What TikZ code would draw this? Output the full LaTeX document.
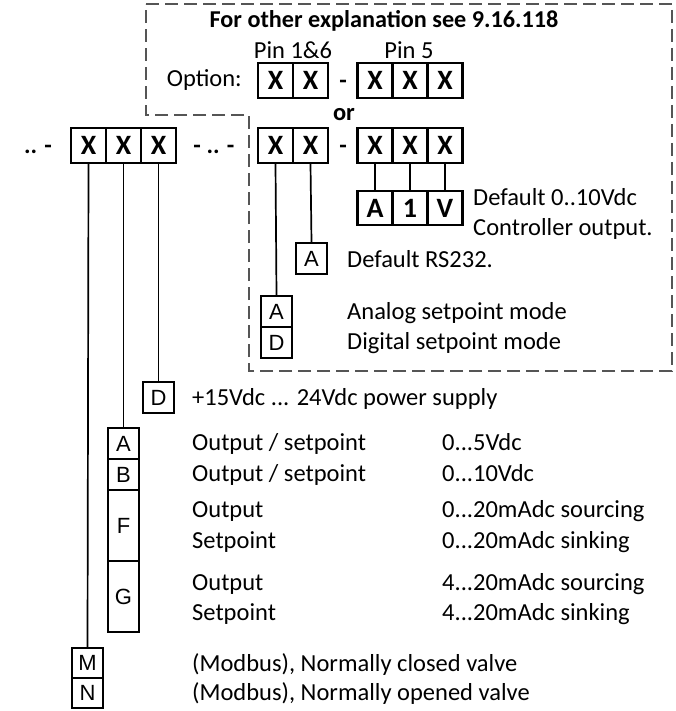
\documentclass[tikz,border=0pt]{standalone}
\usepackage{fontspec}
\setmainfont{Carlito}
\newfontfamily\arialf{Liberation Sans}
\begin{document}
\begin{tikzpicture}[x=1pt,y=-1pt,
  xcell/.style={draw, line width=2.2pt, minimum width=35pt, minimum height=35pt, inner sep=0pt, font=\fontsize{28}{30}\selectfont\bfseries},
  sbox/.style={draw, line width=1.9pt, minimum width=31pt, minimum height=31pt, inner sep=0pt, font=\arialf\fontsize{22}{24}\selectfont},
  lbl/.style={anchor=base west, inner sep=0pt, font=\fontsize{24.5}{26}\selectfont},
  blbl/.style={anchor=base, inner sep=0pt, font=\fontsize{24.5}{26}\selectfont\bfseries},
  conn/.style={line width=1.7pt},
  frame/.style={line width=1.8pt, draw={rgb,255:red,85;green,85;blue,85}, dash pattern=on 13pt off 6pt},
]
\useasboundingbox (0,0) rectangle (675,711);
% dashed option frame
\draw[frame] (146,4) -- (672,4) -- (672,371) -- (249,371) -- (249,115) -- (146,115) -- cycle;
% title and headings
\node[blbl, font=\fontsize{24.2}{26}\selectfont\bfseries] (title) at (384,28) {For other explanation see 9.16.118};
\node[anchor=base, inner sep=0pt, font=\fontsize{24.5}{26}\selectfont] (pin16) at (293,59) {Pin 1\&6};
\node[anchor=base, inner sep=0pt, font=\fontsize{24.5}{26}\selectfont] (pin5) at (409,59) {Pin 5};
\node[anchor=base east, inner sep=0pt, font=\fontsize{24.5}{26}\selectfont] (opt) at (242,87) {Option:};
% option row
\node[xcell] (o1) at (275.5,80.5) {X};
\node[xcell] (o2) at (310.5,80.5) {X};
\node[blbl] (od) at (343,89) {-};
\node[xcell] (o3) at (375,80.5) {X};
\node[xcell] (o4) at (410,80.5) {X};
\node[xcell] (o5) at (445,80.5) {X};
\node[blbl] (or) at (344,121) {or};
% main row
\node[blbl] (lead) at (38,154) {.. -};
\node[xcell] (l1) at (88.5,145.5) {X};
\node[xcell] (l2) at (123.5,145.5) {X};
\node[xcell] (l3) at (158.5,145.5) {X};
\node[blbl] (mid) at (214,154) {- .. -};
\node[xcell] (r1) at (275.5,145.5) {X};
\node[xcell] (r2) at (310.5,145.5) {X};
\node[blbl] (rd) at (343,154) {-};
\node[xcell] (r3) at (375,145.5) {X};
\node[xcell] (r4) at (410,145.5) {X};
\node[xcell] (r5) at (445,145.5) {X};
% A1V
\node[xcell, minimum height=34pt] (v1) at (375,208) {A};
\node[xcell, minimum height=34pt] (v2) at (410,208) {1};
\node[xcell, minimum height=34pt] (v3) at (445,208) {V};
\node[lbl] (vt1) at (473,206) {Default 0..10Vdc};
\node[lbl] (vt2) at (473,235) {Controller output.};
% RS232
\node[sbox] (rsA) at (311.5,258.5) {A};
\node[lbl] (rst) at (347,267) {Default RS232.};
% setpoint mode
\node[sbox] (anA) at (276.5,311.5) {A};
\node[sbox] (anD) at (276.5,342.5) {D};
\node[lbl] (ant) at (347,319) {Analog setpoint mode};
\node[lbl] (dgt) at (347,349) {Digital setpoint mode};
% power supply
\node[sbox] (psD) at (158.5,397.5) {D};
\node[lbl] (pst) at (192,405) {+15Vdc ... 24Vdc power supply};
% signal
\node[sbox] (sA) at (123.5,443.5) {A};
\node[sbox] (sB) at (123.5,474.5) {B};
\node[sbox, minimum height=71pt] (sF) at (123.5,525.5) {F};
\node[sbox, minimum height=71pt] (sG) at (123.5,596.5) {G};
\node[lbl] (a1) at (192,450) {Output / setpoint};
\node[lbl] (a2) at (442,450) {0...5Vdc};
\node[lbl] (b1) at (192,481) {Output / setpoint};
\node[lbl] (b2) at (442,481) {0...10Vdc};
\node[lbl] (f1) at (192,517) {Output};
\node[lbl] (f2) at (442,517) {0...20mAdc sourcing};
\node[lbl] (f3) at (192,548) {Setpoint};
\node[lbl] (f4) at (442,548) {0...20mAdc sinking};
\node[lbl] (g1) at (192,590) {Output};
\node[lbl] (g2) at (442,590) {4...20mAdc sourcing};
\node[lbl] (g3) at (192,620) {Setpoint};
\node[lbl] (g4) at (442,620) {4...20mAdc sinking};
% valve
\node[sbox, minimum height=30pt] (mM) at (87.5,663) {M};
\node[sbox, minimum height=30pt] (mN) at (87.5,693) {N};
\node[lbl] (mt) at (192,671) {(Modbus), Normally closed valve};
\node[lbl] (nt) at (192,700) {(Modbus), Normally opened valve};
% connectors
\draw[conn] (l1.south) -- (mM.north);
\draw[conn] (l2.south) -- (sA.north);
\draw[conn] (l3.south) -- (psD.north);
\draw[conn] (r1.south) -- (anA.north);
\draw[conn] (r2.south) -- (rsA.north);
\draw[conn] (r3.south) -- (v1.north);
\draw[conn] (r4.south) -- (v2.north);
\draw[conn] (r5.south) -- (v3.north);
\end{tikzpicture}
\end{document}
